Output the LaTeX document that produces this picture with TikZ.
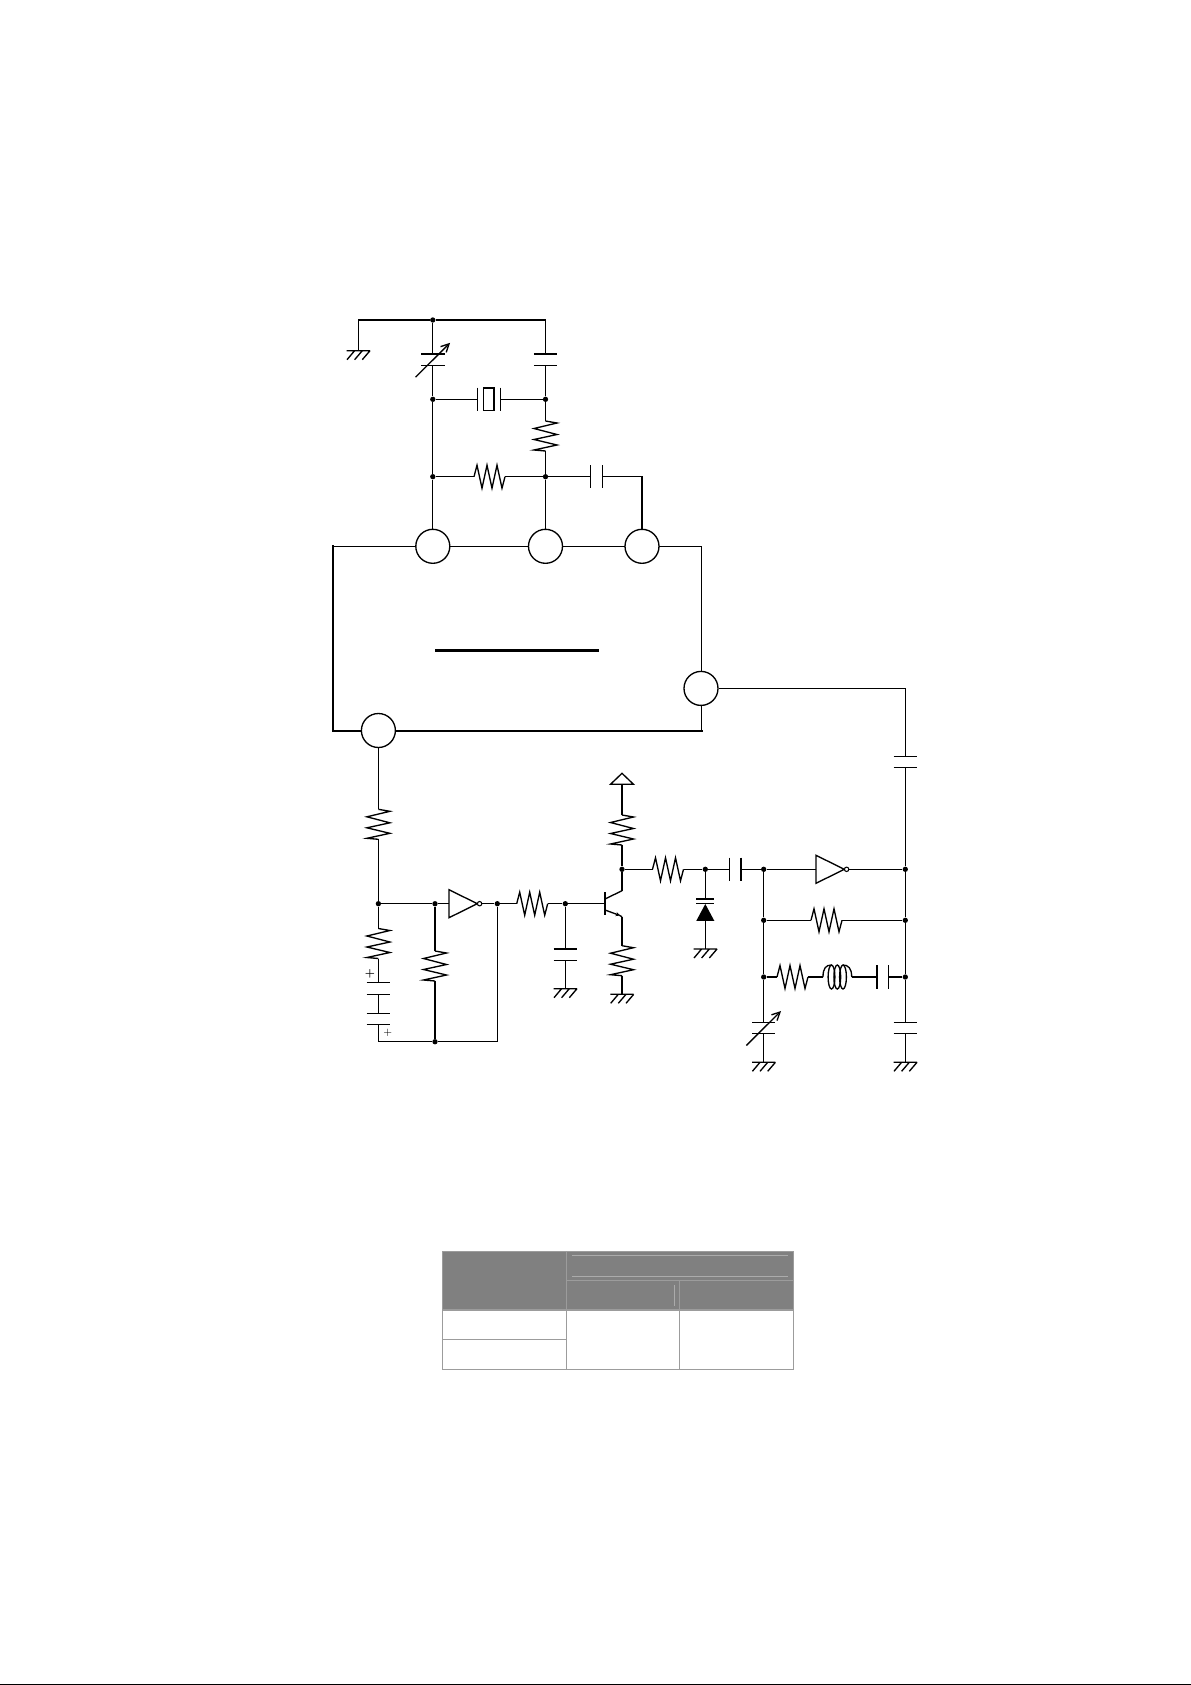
\documentclass[tikz,border=0pt]{standalone}
\usetikzlibrary{arrows.meta}
\definecolor{tblfill}{HTML}{808080}
\definecolor{tblline}{HTML}{9C9C9C}
\definecolor{tblinner}{HTML}{ABABAB}
\tikzset{
  wire/.style={line width=1pt,black,line join=miter},
  thickwire/.style={line width=1.5pt,black},
  junc/.style={circle,fill=black,inner sep=0pt,minimum size=4pt},
  pinc/.style={circle,draw=black,line width=1pt,fill=white,inner sep=0pt,minimum size=25.5pt},
  plus/.style={inner sep=0pt,font=\fontsize{8}{8}\selectfont},
  resv/.pic={
    \draw[wire] (0,0) -- (11.5,2) -- (-11.5,7.5) -- (11.5,13.5) -- (-11.5,18.5) -- (11.5,24) -- (-11.5,29) -- (0,30);
    \coordinate (-a) at (0,0); \coordinate (-b) at (0,30);
  },
  resh/.pic={
    \draw[wire] (0,0) -- (3,-11.5) -- (8,11.5) -- (13,-11.5) -- (18,11.5) -- (23,-11.5) -- (28,11.5) -- (31,0);
    \coordinate (-a) at (0,0); \coordinate (-b) at (31,0);
  },
  capv/.pic={
    \draw[wire] (-11.7,-5.7) -- (11.7,-5.7) (-11.7,5.7) -- (11.7,5.7);
    \coordinate (-a) at (0,-5.7); \coordinate (-b) at (0,5.7);
  },
  caph/.pic={
    \draw[wire] (-5.8,-11.7) -- (-5.8,11.7) (5.8,-11.7) -- (5.8,11.7);
    \coordinate (-a) at (-5.8,0); \coordinate (-b) at (5.8,0);
  },
  varcap/.pic={
    \draw[wire] (-11.7,-5.7) -- (11.7,-5.7) (-11.7,5.7) -- (11.7,5.7);
    \draw[wire,-{Straight Barb[length=6pt,width=6pt]}] (-17.3,17.4) -- (17.3,-17);
    \coordinate (-a) at (0,-5.7); \coordinate (-b) at (0,5.7);
  },
  gnd/.pic={
    \draw[wire] (-11.7,0) -- (11.7,0) (-3.7,0) -- (-11.3,9) (4,0) -- (-3.7,9) (11.7,0) -- (4,9);
    \coordinate (-t) at (0,0);
  },
  inverter/.pic={
    \draw[wire,line join=miter] (0,-14) -- (0,14) -- (28.3,0) -- cycle;
    \draw[line width=.8pt,fill=white] (30.6,0) circle (2.2);
    \coordinate (-a) at (0,0); \coordinate (-b) at (32.8,0);
  },
  crystal/.pic={
    \draw[wire] (-11.5,-11.7) -- (-11.5,11.7) (11.5,-11.7) -- (11.5,11.7);
    \draw[wire] (-5.3,-11.2) rectangle (5.3,11.2);
    \coordinate (-a) at (-11.5,0); \coordinate (-b) at (11.5,0);
  },
  diode/.pic={
    \draw[wire] (-9,-4.4) -- (9,-4.4) (-9,0) -- (9,0);
    \fill[black] (0,0.6) -- (9,17.4) -- (-9,17.4) -- cycle;
    \coordinate (-a) at (0,-4.4); \coordinate (-b) at (0,17.4);
  },
  npn/.pic={
    \draw[wire] (0,-11.4) -- (0,11.4);
    \draw[wire] (0,-4.7) -- (17,-13);
    \draw[wire,-{Stealth[length=3.2pt,width=3.2pt]}] (0,6.3) -- (15,11.8);
    \draw[wire] (14,11.4) -- (17,13);
    \coordinate (-b) at (0,0); \coordinate (-c) at (17,-13); \coordinate (-e) at (17,13);
  },
  coil/.pic={
    \draw[wire] (0,0) .. controls (0,-9) and (3,-12) .. (8.5,-12)
      (20,-12) .. controls (25,-12) and (28.7,-9) .. (28.7,0);
    \foreach \cx in {8.5,14.3,20} \draw[wire] (\cx,0) ellipse (3.4 and 12);
    \coordinate (-a) at (0,0); \coordinate (-b) at (28.7,0);
  },
  vccsym/.pic={
    \draw[wire] (-11.5,0) -- (0,-11) -- (11.5,0) -- cycle;
    \coordinate (-t) at (0,0);
  }
}
\begin{document}
\begin{tikzpicture}[x=0.75pt,y=-0.75pt]
\useasboundingbox (0,0) rectangle (1191,1685);
\fill[white] (0,0) rectangle (1191,1685);
\fill[black] (0,1683.7) rectangle (1191,1685);

% IC box
\coordinate (boxTL) at (332.7,546.3);
\coordinate (boxTR) at (701.7,546.3);
\coordinate (boxBL) at (332.7,730.7);
\coordinate (boxBR) at (701.7,730.7);
\draw[wire] (boxTL) -- (boxTR) -- (boxBR);
\draw[thickwire,line cap=rect] (boxTL) -- (boxBL) -- (boxBR);
\coordinate (barL) at (435.4,650.3);
\coordinate (barR) at (598.7,650.3);
\draw[line width=2.2pt] (barL) -- (barR);

% pins
\node[pinc] (p1) at (432.8,546.3) {};
\node[pinc] (p2) at (545.5,546.3) {};
\node[pinc] (p3) at (642,546.3) {};
\node[pinc] (p4) at (701,688.4) {};
\node[pinc] (p5) at (378.4,730.5) {};

% upper network
\node[junc] (jTop) at (432.8,320) {};
\node[junc] (jX1) at (432.8,399.3) {};
\node[junc] (jX2) at (545.5,399.3) {};
\node[junc] (jR1) at (432.8,476.7) {};
\node[junc] (jR2) at (545.5,476.7) {};
\coordinate (topL) at (358.3,320);
\coordinate (topR) at (545.5,320);
\coordinate (c3turn) at (642,476.7);
\pic (g1) at (358.3,350.7) {gnd};
\pic (vc1) at (432.8,359.8) {varcap};
\pic (c1) at (545.5,359.8) {capv};
\pic (xt) at (488.8,399.3) {crystal};
\pic (r1) at (545.5,421) {resv};
\pic (r2) at (474,476.7) {resh};
\pic (c2) at (596.5,476.7) {caph};
\draw[thickwire] (topL) -- (jTop) -- (topR);
\draw[wire] (topL) -- (g1-t);
\draw[wire] (jTop) -- (vc1-a) (vc1-b) -- (jX1) -- (jR1) -- (p1);
\draw[wire] (topR) -- (c1-a) (c1-b) -- (jX2) -- (r1-a) (r1-b) -- (jR2) -- (p2);
\draw[wire] (jX1) -- (xt-a) (xt-b) -- (jX2);
\draw[wire] (jR1) -- (r2-a) (r2-b) -- (jR2) -- (c2-a);
\draw[wire] (c2-b) -- (c3turn) -- (p3);

% left lower network
\node[junc] (jA) at (378.4,903.7) {};
\node[junc] (jB) at (435,903.7) {};
\node[junc] (jC) at (497.3,903.7) {};
\node[junc] (jD) at (565.3,903.7) {};
\node[junc] (jE) at (435,1041.7) {};
\coordinate (blL) at (378.4,1041.7);
\coordinate (blR) at (497.3,1041.7);
\pic (r3) at (378.4,809.3) {resv};
\pic (r4) at (378.4,928.5) {resv};
\pic (r5) at (435,951) {resv};
\pic (bt1) at (378.4,988.5) {capv};
\pic (bt2) at (378.4,1019) {capv};
\pic (inv1) at (449,903.7) {inverter};
\pic (r6) at (516.7,903.7) {resh};
\pic (c4) at (565.3,954.7) {capv};
\pic (g2) at (565.3,988.7) {gnd};
\pic (q1) at (605,903.7) {npn};
\pic (r7) at (622,815) {resv};
\pic (r8) at (622,945.7) {resv};
\pic (g3) at (622,994.3) {gnd};
\pic (vcc) at (622,784.3) {vccsym};
\node[plus] (plusA) at (370,974.3) {\bfseries +};
\node[plus] (plusB) at (387.7,1032.7) {+};
\draw[wire] (p5) -- (r3-a) (r3-b) -- (jA) -- (r4-a) (r4-b) -- (bt1-a);
\draw[wire] (bt1-b) -- (bt2-a);
\draw[wire] (bt2-b) -- (blL) -- (jE) -- (blR) -- (jC);
\draw[wire] (jA) -- (jB) -- (inv1-a) (inv1-b) -- (jC) -- (r6-a) (r6-b) -- (jD) -- (q1-b);
\draw[wire] (jB) -- (r5-a) (r5-b) -- (jE);
\draw[wire] (jD) -- (c4-a) (c4-b) -- (g2-t);
\node[junc] (jF) at (622,869.3) {};
\draw[wire] (vcc-t) -- (r7-a) (r7-b) -- (jF) -- (q1-c);
\draw[wire] (q1-e) -- (r8-a) (r8-b) -- (g3-t);

% right lower network
\node[junc] (jG) at (705.3,869.3) {};
\node[junc] (jH) at (763.7,869.3) {};
\node[junc] (jI) at (905.3,869.3) {};
\node[junc] (jJ) at (763.7,920.3) {};
\node[junc] (jK) at (905.3,920.3) {};
\node[junc] (jL) at (763.7,977) {};
\node[junc] (jM) at (905.3,977) {};
\coordinate (outTurn) at (905.3,688.4);
\pic (c5) at (905.3,762) {capv};
\pic (r9) at (652.5,869.3) {resh};
\pic (c6) at (735.2,869.3) {caph};
\pic (d1) at (705.3,903.4) {diode};
\pic (g4) at (705.3,949) {gnd};
\pic (inv2) at (816,869.3) {inverter};
\pic (r10) at (811,920.3) {resh};
\pic (r11) at (777,977) {resh};
\pic (l1) at (823,977) {coil};
\pic (c7) at (882.7,977) {caph};
\pic (vc2) at (763.7,1028) {varcap};
\pic (c8) at (905.3,1028) {capv};
\pic (g5) at (763.7,1062.3) {gnd};
\pic (g6) at (905.3,1062.3) {gnd};
\draw[wire] (p4) -- (outTurn) -- (c5-a) (c5-b) -- (jI) -- (jK) -- (jM) -- (c8-a) (c8-b) -- (g6-t);
\draw[wire] (jF) -- (r9-a) (r9-b) -- (jG) -- (c6-a) (c6-b) -- (jH) -- (inv2-a) (inv2-b) -- (jI);
\draw[wire] (jG) -- (d1-a) (d1-b) -- (g4-t);
\draw[wire] (jH) -- (jJ) -- (jL) -- (vc2-a) (vc2-b) -- (g5-t);
\draw[wire] (jJ) -- (r10-a) (r10-b) -- (jK);
\draw[wire] (jL) -- (r11-a) (r11-b) -- (l1-a) (l1-b) -- (c7-a) (c7-b) -- (jM);

% table
\fill[tblfill] (442.3,1251.7) rectangle (793.3,1310);
\draw[tblline,line width=1pt] (442.3,1251.7) rectangle (793.3,1369.3);
\draw[tblline,line width=1pt] (442.3,1310) -- (793.3,1310);
\draw[tblline,line width=1pt] (566.3,1251.7) -- (566.3,1369.3);
\draw[tblline,line width=1pt] (679.7,1280.7) -- (679.7,1369.3);
\draw[tblline,line width=1pt] (566.3,1280.7) -- (793.3,1280.7);
\draw[tblline,line width=1pt] (442.3,1339.3) -- (566.3,1339.3);
\draw[tblinner,line width=.8pt] (572,1255.3) -- (788,1255.3);
\draw[tblinner,line width=.8pt] (572,1276.3) -- (788,1276.3);
\draw[tblinner,line width=.8pt] (674.3,1285) -- (674.3,1305.7);
\end{tikzpicture}
\end{document}
